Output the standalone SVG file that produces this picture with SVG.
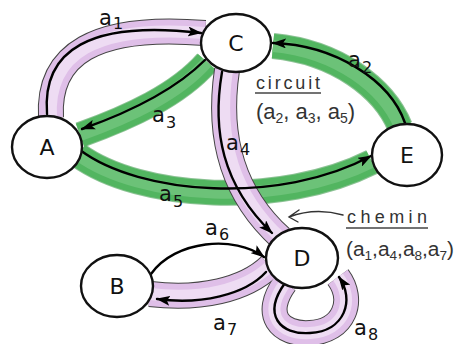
<svg xmlns="http://www.w3.org/2000/svg" width="457" height="344" viewBox="0 0 457 344">
<defs>
<style>
.node{fill:#fff;stroke:#111;stroke-width:2.4}
.nl{font-family:"DejaVu Sans","Liberation Sans",sans-serif;font-size:22px;fill:#111;text-anchor:middle}
.lb{font-family:"DejaVu Sans","Liberation Sans",sans-serif;font-size:21px;fill:#111}
.sb{font-size:16px}
.hw{font-family:"Liberation Sans","DejaVu Sans",sans-serif;fill:#333}
.ln{fill:none;stroke:#000;stroke-width:2.4;stroke-linecap:round}
.po{fill:none;stroke:#444;stroke-width:26}
.pe{fill:none;stroke:#dfbfe8;stroke-width:24}
.pc{fill:none;stroke:#eedcf3;stroke-width:12}
.go{fill:none;stroke:#3f9a4c;stroke-width:26;stroke-opacity:0.6}
.ge{fill:none;stroke:#52b560;stroke-width:24}
.gc{fill:none;stroke:#6cc278;stroke-width:12}
</style>
<marker id="ah" viewBox="0 0 14 10" refX="13" refY="5" markerWidth="14" markerHeight="10" markerUnits="userSpaceOnUse" orient="auto">
<path d="M0,0 L14,5 L0,10 L3,5 z" fill="#000"/>
</marker>
</defs>
<rect width="457" height="344" fill="#fff"/>
<g id="connectors">
<g id="bands-green">
<path class="go" d="M207,62 C178,95 130,117 80,135"/>
<path class="go" d="M78,155 C140,200 280,208 372,162"/>
<path class="go" d="M400,127 C384,88 337,52 273,46"/>
<path class="ge" d="M207,62 C178,95 130,117 80,135"/>
<path class="ge" d="M78,155 C140,200 280,208 372,162"/>
<path class="ge" d="M400,127 C384,88 337,52 273,46"/>
<path class="gc" d="M207,62 C178,95 130,117 80,135"/>
<path class="gc" d="M78,155 C140,200 280,208 372,162"/>
<path class="gc" d="M400,127 C384,88 337,52 273,46"/>
</g>
<g id="bands-purple">
<path class="po" d="M51,118 C47,54 95,24 205,33"/>
<path class="po" d="M227,70 C218,130 228,190 281,238"/>
<path class="po" d="M270,266 C245,290 200,300 150,294"/>
<path class="po" d="M285,283 C262,315 280,335 310,333 C345,331 355,300 338,277"/>
<path class="pe" d="M51,118 C47,54 95,24 205,33"/>
<path class="pe" d="M227,70 C218,130 228,190 281,238"/>
<path class="pe" d="M270,266 C245,290 200,300 150,294"/>
<path class="pe" d="M285,283 C262,315 280,335 310,333 C345,331 355,300 338,277"/>
<path class="pc" d="M51,118 C47,54 95,24 205,33"/>
<path class="pc" d="M227,70 C218,130 228,190 281,238"/>
<path class="pc" d="M270,266 C245,290 200,300 150,294"/>
<path class="pc" d="M285,283 C262,315 280,335 310,333 C345,331 355,300 338,277"/>
</g>
<g id="edges">
<path id="a1" class="ln" d="M47,114 C42,50 90,20 201,33" marker-end="url(#ah)"/>
<path id="a3" class="ln" d="M205,60 C175,90 130,112 82,129" marker-end="url(#ah)"/>
<path id="a5" class="ln" d="M80,150 C140,195 280,205 371,156" marker-end="url(#ah)"/>
<path id="a2" class="ln" d="M405,123 C390,80 335,45 273,43" marker-end="url(#ah)"/>
<path id="a4" class="ln" d="M222,72 C212,130 222,185 272,233" marker-end="url(#ah)"/>
<path id="a6" class="ln" d="M151,274 C175,240 235,235 264,257" marker-end="url(#ah)"/>
<path id="a7" class="ln" d="M266,272 C245,295 200,305 157,299" marker-end="url(#ah)"/>
<path id="a8" class="ln" d="M285,283 C262,315 280,335 310,333 C345,331 355,300 339,277" marker-end="url(#ah)"/>
<path id="chemin-arrow" fill="none" stroke="#333" stroke-width="1.4" stroke-linecap="round" d="M343,215 C322,209 305,211 289,217 M299,210 L289,217 L298,222"/>
</g>
</g>
<g id="node-A"><ellipse class="node" cx="47" cy="147" rx="35" ry="31"/><text class="nl" x="47" y="155">A</text></g>
<g id="node-B"><ellipse class="node" cx="117" cy="286" rx="36" ry="31"/><text class="nl" x="117" y="294">B</text></g>
<g id="node-C"><ellipse class="node" cx="236" cy="43" rx="35" ry="29"/><text class="nl" x="236" y="51">C</text></g>
<g id="node-D"><ellipse class="node" cx="302" cy="258" rx="36" ry="30"/><text class="nl" x="302" y="266">D</text></g>
<g id="node-E"><ellipse class="node" cx="407" cy="155" rx="35" ry="31"/><text class="nl" x="407" y="163">E</text></g>
<g id="labels">
<text class="lb" x="99" y="25">a<tspan class="sb" dx="1" dy="4">1</tspan></text>
<text class="lb" x="348" y="67">a<tspan class="sb" dx="1" dy="6">2</tspan></text>
<text class="lb" x="152" y="122">a<tspan class="sb" dx="1" dy="6">3</tspan></text>
<text class="lb" x="226" y="150">a<tspan class="sb" dx="1" dy="5">4</tspan></text>
<text class="lb" x="159" y="201">a<tspan class="sb" dx="1" dy="6">5</tspan></text>
<text class="lb" x="205" y="235">a<tspan class="sb" dx="1" dy="5">6</tspan></text>
<text class="lb" x="213" y="330">a<tspan class="sb" dx="1" dy="5">7</tspan></text>
<text class="lb" x="354" y="335">a<tspan class="sb" dx="1" dy="5">8</tspan></text>
<text class="hw" x="256" y="89" font-size="18" textLength="64" lengthAdjust="spacing">circuit</text>
<line x1="255" y1="93" x2="321" y2="93" stroke="#444" stroke-width="1.5"/>
<text class="hw" x="256" y="119" font-size="22" textLength="99" lengthAdjust="spacing">(a<tspan font-size="14" dy="4">2</tspan><tspan dy="-4">, a</tspan><tspan font-size="14" dy="4">3</tspan><tspan dy="-4">, a</tspan><tspan font-size="14" dy="4">5</tspan><tspan dy="-4">)</tspan></text>
<text class="hw" x="347" y="223" font-size="18" textLength="80" lengthAdjust="spacing">chemin</text>
<line x1="346" y1="228" x2="428" y2="228" stroke="#444" stroke-width="1.5"/>
<text class="hw" x="346" y="256" font-size="20" textLength="108" lengthAdjust="spacingAndGlyphs">(a<tspan font-size="13" dy="4">1</tspan><tspan dy="-4">,a</tspan><tspan font-size="13" dy="4">4</tspan><tspan dy="-4">,a</tspan><tspan font-size="13" dy="4">8</tspan><tspan dy="-4">,a</tspan><tspan font-size="13" dy="4">7</tspan><tspan dy="-4">)</tspan></text>
</g>
</svg>
